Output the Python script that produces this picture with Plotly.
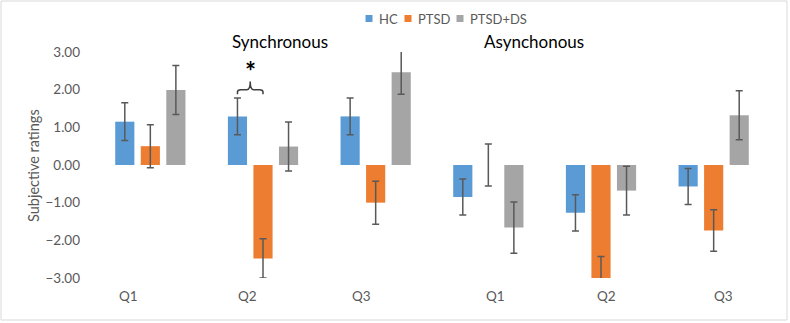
import plotly.graph_objects as go

# ---- data ----
groups = ["Q1", "Q2", "Q3", "Q1", "Q2", "Q3"]
series_names = ["HC", "PTSD", "PTSD+DS"]
hc = [1.15, 1.29, 1.29, -0.85, -1.27, -0.57]
hc_err = [0.50, 0.49, 0.49, 0.48, 0.48, 0.48]
ptsd = [0.50, -2.48, -1.00, 0.00, -3.00, -1.74]
ptsd_err = [0.57, 0.52, 0.57, 0.56, 0.57, 0.55]
ptsd_ds = [1.99, 0.49, 2.46, -1.66, -0.68, 1.32]
ptsd_ds_err = [0.65, 0.65, 0.58, 0.68, 0.65, 0.65]
panel_titles = ["Synchronous", "Asynchonous"]
y_ticks = [-3, -2, -1, 0, 1, 2, 3]

# ---- style ----
colors = ["#5B9BD5", "#ED7D31", "#A5A5A5"]
label_xshift = [-22, -16, -14, 7, 5, 10]
legend_px = [369, 408, 460]          # legend square centres (pixels)
FONT = "Lato, Carlito, Calibri, sans-serif"
GRAY = "#595959"
BARGAP = 0.32
BARGROUPGAP = 0.25

W, H = 790, 323
ML, MR, MT, MB = 94, 20, 52, 45
pw, ph = W - ML - MR, H - MT - MB


def px_x(p):
    return (p - ML) / pw


def px_y(p):
    return (MT + ph - p) / ph


xs = list(range(len(groups)))
fig = go.Figure()
for name, vals, errs, col in zip(series_names, [hc, ptsd, ptsd_ds],
                                  [hc_err, ptsd_err, ptsd_ds_err], colors):
    fig.add_trace(go.Bar(
        x=xs, y=vals, name=name, marker=dict(color=col, line=dict(width=0)),
        error_y=dict(type="data", array=errs, visible=True, color=GRAY,
                     thickness=1.5, width=3.5),
        showlegend=False))

fig.update_layout(
    width=W, height=H, barmode="group", bargap=BARGAP, bargroupgap=BARGROUPGAP,
    margin=dict(l=ML, r=MR, t=MT, b=MB, autoexpand=False),
    plot_bgcolor="white", paper_bgcolor="white",
    font=dict(family=FONT, color=GRAY, size=12),
    showlegend=False,
    xaxis=dict(range=[-0.5, len(groups) - 0.5], showticklabels=False,
               showgrid=False, zeroline=False, showline=False, ticks=""),
    yaxis=dict(range=[-3, 3], tickvals=y_ticks, tickformat=".2f",
               showgrid=False, zeroline=False, showline=False, ticks="",
               ticklabelstandoff=13, tickfont=dict(size=13.5, color=GRAY)),
)

# legend (drawn manually for compact Excel-style layout)
for name, col, cx in zip(series_names, colors, legend_px):
    fig.add_shape(type="rect", xref="paper", yref="paper",
                  x0=px_x(cx - 3.5), x1=px_x(cx + 3.5),
                  y0=px_y(18.5 + 3.5), y1=px_y(18.5 - 3.5),
                  fillcolor=col, line=dict(width=0))
    fig.add_annotation(x=px_x(cx + 8), y=px_y(18.5), xref="paper", yref="paper",
                       text=name, showarrow=False, xanchor="left", yanchor="middle",
                       font=dict(size=13, color=GRAY))

# group labels
for x, lab, dx in zip(xs, groups, label_xshift):
    fig.add_annotation(x=x, y=px_y(296), xref="x", yref="paper",
                       text=lab, showarrow=False, xshift=dx,
                       font=dict(size=13.5, color=GRAY), yanchor="middle")

# panel titles
for t, p in zip(panel_titles, [230, 586]):
    fig.add_annotation(x=px_x(p), y=px_y(42), xref="paper",
                       yref="paper", text=t, showarrow=False,
                       font=dict(size=17, color="black"), yanchor="middle")

# y axis title
fig.add_annotation(x=px_x(33), y=px_y(166), xref="paper", yref="paper",
                   text="Subjective ratings", textangle=-90, showarrow=False,
                   font=dict(size=14.5, color=GRAY), xanchor="center", yanchor="middle")

# significance bracket on synchronous Q2 (HC vs PTSD)
slot = (1 - BARGAP) / 3
xa, xb = 1 - slot, 1.0
xm = (xa + xb) / 2
yb, ye, yt = 2.0, 1.88, 2.22
r = 0.03
path = (f"M{xa},{ye} L{xa},{yb - 0.06} Q{xa},{yb} {xa + r},{yb} "
        f"L{xm - r},{yb} Q{xm},{yb} {xm},{yt} "
        f"Q{xm},{yb} {xm + r},{yb} L{xb - r},{yb} Q{xb},{yb} {xb},{yb - 0.06} L{xb},{ye}")
fig.add_shape(type="path", path=path, xref="x", yref="y",
              line=dict(color="#404040", width=1.5))
fig.add_annotation(x=xm, y=2.5, xref="x", yref="y", text="<b>*</b>", showarrow=False,
                   font=dict(size=26, color="black"), yanchor="middle")

# chart-area border
fig.add_shape(type="rect", xref="paper", yref="paper",
              x0=px_x(1), x1=px_x(787), y0=px_y(320), y1=px_y(1),
              line=dict(color="#D9D9D9", width=1))

fig.write_html("out.html", config={"displayModeBar": False},
               post_script="document.body.style.margin='0';")
